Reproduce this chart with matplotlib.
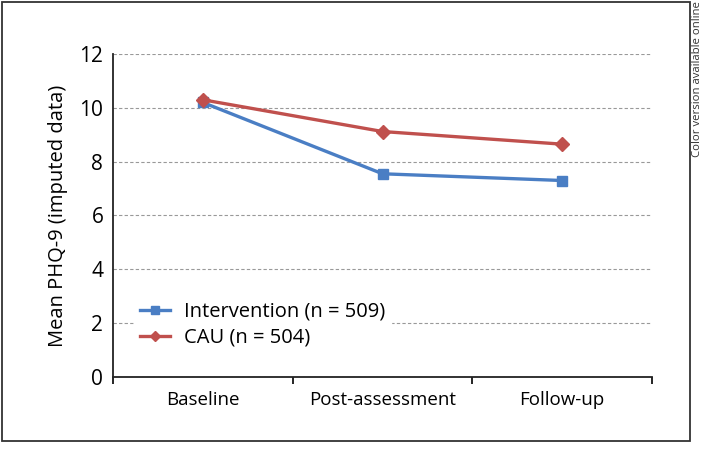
import matplotlib.pyplot as plt
from matplotlib.patches import Rectangle

plt.rcParams['font.family'] = ['Open Sans', 'DejaVu Sans']

# data
timepoints = ['Baseline', 'Post-assessment', 'Follow-up']
intervention = [10.2, 7.55, 7.3]
cau = [10.3, 9.12, 8.65]
series_labels = ['Intervention (n = 509)', 'CAU (n = 504)']
y_ticks = [0, 2, 4, 6, 8, 10, 12]

fig = plt.figure(figsize=(7.08, 4.49), dpi=100)
ax = fig.add_axes([0.1596, 0.1604, 0.7614, 0.7193])

x = range(len(timepoints))
ax.plot(x, intervention, color='#4A7EC4', linewidth=2.4, marker='s',
        markersize=7, label=series_labels[0], zorder=3)
ax.plot(x, cau, color='#C0504D', linewidth=2.4, marker='D',
        markersize=7, label=series_labels[1], zorder=3)

ax.set_xlim(-0.5, 2.5)
ax.set_ylim(0, 12)
ax.set_yticks(y_ticks)
ax.tick_params(axis='y', length=0, labelsize=15, pad=7)
ax.set_xticks(list(x))
ax.set_xticklabels(timepoints)
ax.tick_params(axis='x', which='major', length=0, labelsize=13.5, pad=10)
ax.set_xticks([-0.5, 0.5, 1.5, 2.5], minor=True)
ax.tick_params(axis='x', which='minor', length=5, width=1.2, direction='out')
ax.yaxis.grid(True, linestyle=(0, (3, 2)), color='#999999', linewidth=0.8)
ax.set_axisbelow(True)
for s in ['top', 'right']:
    ax.spines[s].set_visible(False)
for s in ['left', 'bottom']:
    ax.spines[s].set_linewidth(1.3)
    ax.spines[s].set_color('#222222')

ax.set_ylabel('Mean PHQ-9 (imputed data)', fontsize=14.5, labelpad=8)

leg = ax.legend(loc='lower left', bbox_to_anchor=(0.02, 0.04), frameon=True,
                fontsize=14.5, handlelength=1.5, borderpad=0.3,
                labelspacing=0.3, handletextpad=0.7, markerscale=0.8)
leg.get_frame().set_edgecolor('white')
leg.get_frame().set_facecolor('white')
leg.get_frame().set_alpha(1)

# outer border
fig.patches.append(Rectangle((0.003, 0.018), 0.972, 0.978, transform=fig.transFigure,
                             fill=False, edgecolor='#333333', linewidth=1.3))
fig.text(0.985, 0.998, 'Color version available online', rotation=90,
         ha='center', va='top', fontsize=8.2, color='#333333')

fig.savefig('out.png', dpi=100)
